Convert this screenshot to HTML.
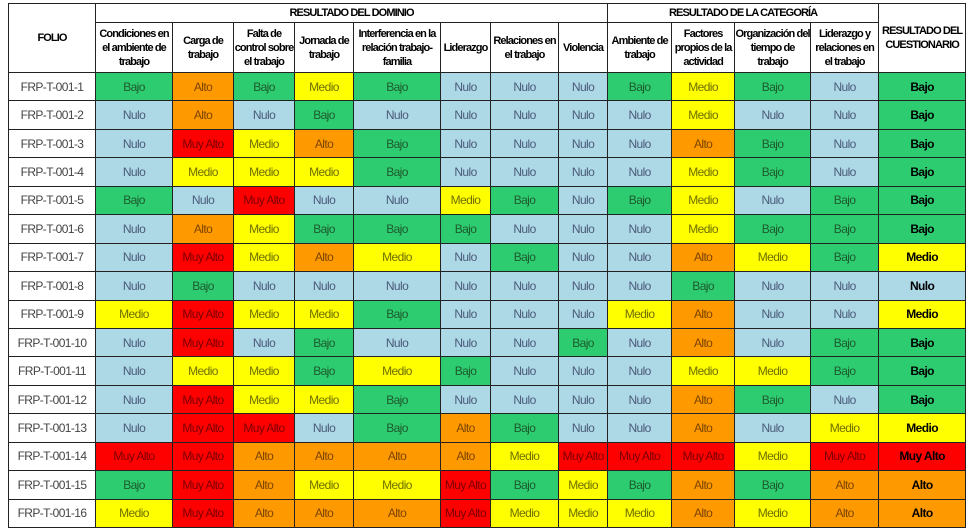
<!DOCTYPE html>
<html><head><meta charset="utf-8"><style>
body{margin:0;background:#fff;width:969px;height:530px;overflow:hidden}
table{position:absolute;left:8px;top:3px;border-collapse:collapse;table-layout:fixed;width:957px;font-family:"Liberation Sans",sans-serif;font-size:12px;letter-spacing:-0.6px}
td,th{border:1px solid #222;text-align:center;vertical-align:middle;padding:0;overflow:hidden;white-space:nowrap}
th{font-weight:bold;color:#000;line-height:14px;white-space:normal;font-size:11px;letter-spacing:-0.9px}
tr.h1{height:19px}tr.h2{height:50px}
tr.h2 th{max-height:50px}
tr.d{height:28.44px}
td.f{color:#444;background:#fff}
.n{background:#add8e6;color:#4a5a78}
.b{background:#2ecc71;color:#1d5a2c}
.m{background:#ffff00;color:#6f6f00}
.a{background:#ff9900;color:#7a4400}
.x{background:#ff0000;color:#7a0000}
td.r{font-weight:bold;color:#000}
</style></head><body>
<table>
<colgroup><col style="width:87px"><col style="width:77px"><col style="width:61px"><col style="width:61px"><col style="width:59px"><col style="width:87px"><col style="width:50px"><col style="width:68px"><col style="width:49px"><col style="width:64px"><col style="width:63px"><col style="width:76px"><col style="width:68px"><col style="width:87px"></colgroup>
<tr class="h1"><th rowspan="2">FOLIO</th><th colspan="8">RESULTADO DEL DOMINIO</th><th colspan="4">RESULTADO DE LA CATEGORÍA</th><th rowspan="2">RESULTADO DEL CUESTIONARIO</th></tr>
<tr class="h2"><th>Condiciones en el ambiente de trabajo</th><th>Carga de trabajo</th><th>Falta de control sobre el trabajo</th><th>Jornada de trabajo</th><th>Interferencia en la relación trabajo-familia</th><th>Liderazgo</th><th>Relaciones en el trabajo</th><th>Violencia</th><th>Ambiente de trabajo</th><th>Factores propios de la actividad</th><th>Organización del tiempo de trabajo</th><th>Liderazgo y relaciones en el trabajo</th></tr>
<tr class="d"><td class="f">FRP-T-001-1</td><td class="b">Bajo</td><td class="a">Alto</td><td class="b">Bajo</td><td class="m">Medio</td><td class="b">Bajo</td><td class="n">Nulo</td><td class="n">Nulo</td><td class="n">Nulo</td><td class="b">Bajo</td><td class="m">Medio</td><td class="b">Bajo</td><td class="n">Nulo</td><td class="b r">Bajo</td></tr>
<tr class="d"><td class="f">FRP-T-001-2</td><td class="n">Nulo</td><td class="a">Alto</td><td class="n">Nulo</td><td class="b">Bajo</td><td class="n">Nulo</td><td class="n">Nulo</td><td class="n">Nulo</td><td class="n">Nulo</td><td class="n">Nulo</td><td class="m">Medio</td><td class="n">Nulo</td><td class="n">Nulo</td><td class="b r">Bajo</td></tr>
<tr class="d"><td class="f">FRP-T-001-3</td><td class="n">Nulo</td><td class="x">Muy Alto</td><td class="m">Medio</td><td class="a">Alto</td><td class="b">Bajo</td><td class="n">Nulo</td><td class="n">Nulo</td><td class="n">Nulo</td><td class="n">Nulo</td><td class="a">Alto</td><td class="b">Bajo</td><td class="n">Nulo</td><td class="b r">Bajo</td></tr>
<tr class="d"><td class="f">FRP-T-001-4</td><td class="n">Nulo</td><td class="m">Medio</td><td class="m">Medio</td><td class="m">Medio</td><td class="b">Bajo</td><td class="n">Nulo</td><td class="n">Nulo</td><td class="n">Nulo</td><td class="n">Nulo</td><td class="m">Medio</td><td class="b">Bajo</td><td class="n">Nulo</td><td class="b r">Bajo</td></tr>
<tr class="d"><td class="f">FRP-T-001-5</td><td class="b">Bajo</td><td class="n">Nulo</td><td class="x">Muy Alto</td><td class="n">Nulo</td><td class="n">Nulo</td><td class="m">Medio</td><td class="b">Bajo</td><td class="n">Nulo</td><td class="b">Bajo</td><td class="m">Medio</td><td class="n">Nulo</td><td class="b">Bajo</td><td class="b r">Bajo</td></tr>
<tr class="d"><td class="f">FRP-T-001-6</td><td class="n">Nulo</td><td class="a">Alto</td><td class="m">Medio</td><td class="b">Bajo</td><td class="b">Bajo</td><td class="b">Bajo</td><td class="n">Nulo</td><td class="n">Nulo</td><td class="n">Nulo</td><td class="m">Medio</td><td class="b">Bajo</td><td class="b">Bajo</td><td class="b r">Bajo</td></tr>
<tr class="d"><td class="f">FRP-T-001-7</td><td class="n">Nulo</td><td class="x">Muy Alto</td><td class="m">Medio</td><td class="a">Alto</td><td class="m">Medio</td><td class="n">Nulo</td><td class="b">Bajo</td><td class="n">Nulo</td><td class="n">Nulo</td><td class="a">Alto</td><td class="m">Medio</td><td class="b">Bajo</td><td class="m r">Medio</td></tr>
<tr class="d"><td class="f">FRP-T-001-8</td><td class="n">Nulo</td><td class="b">Bajo</td><td class="n">Nulo</td><td class="n">Nulo</td><td class="n">Nulo</td><td class="n">Nulo</td><td class="n">Nulo</td><td class="n">Nulo</td><td class="n">Nulo</td><td class="b">Bajo</td><td class="n">Nulo</td><td class="n">Nulo</td><td class="n r">Nulo</td></tr>
<tr class="d"><td class="f">FRP-T-001-9</td><td class="m">Medio</td><td class="x">Muy Alto</td><td class="m">Medio</td><td class="m">Medio</td><td class="b">Bajo</td><td class="n">Nulo</td><td class="n">Nulo</td><td class="n">Nulo</td><td class="m">Medio</td><td class="a">Alto</td><td class="n">Nulo</td><td class="n">Nulo</td><td class="m r">Medio</td></tr>
<tr class="d"><td class="f">FRP-T-001-10</td><td class="n">Nulo</td><td class="x">Muy Alto</td><td class="n">Nulo</td><td class="b">Bajo</td><td class="n">Nulo</td><td class="n">Nulo</td><td class="n">Nulo</td><td class="b">Bajo</td><td class="n">Nulo</td><td class="a">Alto</td><td class="n">Nulo</td><td class="b">Bajo</td><td class="b r">Bajo</td></tr>
<tr class="d"><td class="f">FRP-T-001-11</td><td class="n">Nulo</td><td class="m">Medio</td><td class="m">Medio</td><td class="b">Bajo</td><td class="m">Medio</td><td class="b">Bajo</td><td class="n">Nulo</td><td class="n">Nulo</td><td class="n">Nulo</td><td class="m">Medio</td><td class="m">Medio</td><td class="b">Bajo</td><td class="b r">Bajo</td></tr>
<tr class="d"><td class="f">FRP-T-001-12</td><td class="n">Nulo</td><td class="x">Muy Alto</td><td class="m">Medio</td><td class="m">Medio</td><td class="b">Bajo</td><td class="n">Nulo</td><td class="n">Nulo</td><td class="n">Nulo</td><td class="n">Nulo</td><td class="a">Alto</td><td class="b">Bajo</td><td class="n">Nulo</td><td class="b r">Bajo</td></tr>
<tr class="d"><td class="f">FRP-T-001-13</td><td class="n">Nulo</td><td class="x">Muy Alto</td><td class="x">Muy Alto</td><td class="n">Nulo</td><td class="b">Bajo</td><td class="a">Alto</td><td class="b">Bajo</td><td class="n">Nulo</td><td class="n">Nulo</td><td class="a">Alto</td><td class="n">Nulo</td><td class="m">Medio</td><td class="m r">Medio</td></tr>
<tr class="d"><td class="f">FRP-T-001-14</td><td class="x">Muy Alto</td><td class="x">Muy Alto</td><td class="a">Alto</td><td class="a">Alto</td><td class="a">Alto</td><td class="a">Alto</td><td class="m">Medio</td><td class="x">Muy Alto</td><td class="x">Muy Alto</td><td class="x">Muy Alto</td><td class="m">Medio</td><td class="x">Muy Alto</td><td class="x r">Muy Alto</td></tr>
<tr class="d"><td class="f">FRP-T-001-15</td><td class="b">Bajo</td><td class="x">Muy Alto</td><td class="a">Alto</td><td class="m">Medio</td><td class="m">Medio</td><td class="x">Muy Alto</td><td class="b">Bajo</td><td class="m">Medio</td><td class="b">Bajo</td><td class="a">Alto</td><td class="b">Bajo</td><td class="a">Alto</td><td class="a r">Alto</td></tr>
<tr class="d"><td class="f">FRP-T-001-16</td><td class="m">Medio</td><td class="x">Muy Alto</td><td class="a">Alto</td><td class="a">Alto</td><td class="a">Alto</td><td class="x">Muy Alto</td><td class="m">Medio</td><td class="m">Medio</td><td class="m">Medio</td><td class="a">Alto</td><td class="m">Medio</td><td class="a">Alto</td><td class="a r">Alto</td></tr>
</table>
</body></html>
